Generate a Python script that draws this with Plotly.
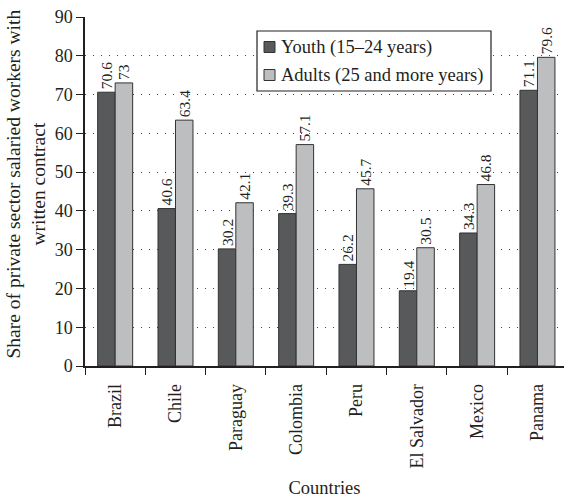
import plotly.graph_objects as go

countries = ["Brazil", "Chile", "Paraguay", "Colombia", "Peru", "El Salvador", "Mexico", "Panama"]
youth = [70.6, 40.6, 30.2, 39.3, 26.2, 19.4, 34.3, 71.1]
adults = [73, 63.4, 42.1, 57.1, 45.7, 30.5, 46.8, 79.6]
series_names = ["Youth (15\u201324 years)", "Adults (25 and more years)"]
series_colors = ["#58595b", "#bcbec0"]

FONT = "Liberation Serif, Times New Roman, serif"
INK = "#231f20"
EDGE = "#333333"

W, H = 564, 498
ML, MT, MB = 85, 17, 132
PW, PH = W - ML, H - MT - MB

fig = go.Figure()
for name, vals, col in zip(series_names, [youth, adults], series_colors):
    fig.add_trace(go.Bar(
        name=name, x=countries, y=vals, showlegend=False,
        marker=dict(color=col, line=dict(color=EDGE, width=1)),
        texttemplate="%{y}", textposition="outside", textangle=-90,
        constraintext="none",
        textfont=dict(family=FONT, size=15.5, color=INK), cliponaxis=False,
    ))

fig.update_layout(
    width=W, height=H,
    margin=dict(l=ML, r=0, t=MT, b=MB, autoexpand=False),
    paper_bgcolor="white", plot_bgcolor="white",
    font=dict(family=FONT, size=18, color=INK),
    barmode="group", bargap=0.42, bargroupgap=0,
    showlegend=False,
)

fig.update_xaxes(
    range=[-0.5, 7.44], automargin=False,
    showline=True, linecolor=INK, linewidth=1.5,
    ticks="outside", ticklen=7, tickcolor=INK, tickson="boundaries",
    ticklabelstandoff=9,
    tickangle=-90, tickfont=dict(family=FONT, size=18, color=INK),
    showgrid=False,
    title=dict(text="Countries", font=dict(family=FONT, size=18.5, color=INK), standoff=22),
)
fig.update_yaxes(
    range=[0, 90], dtick=10, automargin=False,
    showline=True, linecolor=INK, linewidth=1.5,
    ticks="outside", ticklen=7, tickcolor=INK,
    tickfont=dict(family=FONT, size=18, color=INK),
    showgrid=True, gridcolor="#444444", gridwidth=1, griddash="1px,7px",
    zeroline=False,
)

# y-axis title, two centred lines
fig.add_annotation(
    text="Share of private sector salaried workers with<br>written contract",
    xref="paper", yref="paper", x=0, y=(H - MB - 184) / PH,
    xanchor="center", yanchor="middle", xshift=-59.5,
    textangle=-90, showarrow=False,
    font=dict(family=FONT, size=19.5, color=INK),
)

# boxed legend with small square swatches
def px_x(px):
    return (px - ML) / PW

def px_y(py):
    return (H - MB - py) / PH

fig.add_shape(type="rect", xref="paper", yref="paper",
              x0=px_x(257), x1=px_x(491), y0=px_y(91), y1=px_y(31),
              line=dict(color=INK, width=1.2), fillcolor="white", layer="above")
for i, (name, col) in enumerate(zip(series_names, series_colors)):
    cy = 47 + 28 * i
    fig.add_shape(type="rect", xref="paper", yref="paper",
                  x0=px_x(264), x1=px_x(275), y0=px_y(cy + 5.5), y1=px_y(cy - 5.5),
                  line=dict(color=EDGE, width=1), fillcolor=col, layer="above")
    fig.add_annotation(text=name, xref="paper", yref="paper",
                       x=px_x(279), y=px_y(cy), xanchor="left", yanchor="middle",
                       showarrow=False, font=dict(family=FONT, size=18.5, color=INK))

fig.write_html("out.html")
